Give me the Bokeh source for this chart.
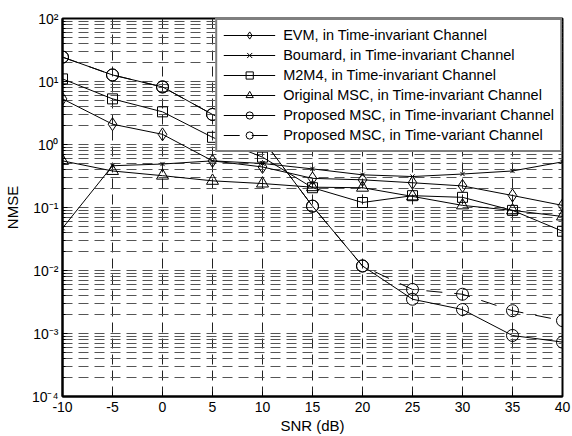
from bokeh.plotting import figure
from bokeh.models import FixedTicker, Legend, LegendItem, Range1d
from bokeh.embed import file_html
from bokeh.resources import INLINE

snr = [-10, -5, 0, 5, 10, 15, 20, 25, 30, 35, 40]
evm = [5.3, 2.1, 1.45, 0.55, 0.44, 0.29, 0.275, 0.247, 0.22, 0.155, 0.108]
boumard = [0.047, 0.46, 0.49, 0.55, 0.5, 0.41, 0.33, 0.31, 0.34, 0.38, 0.53]
m2m4 = [11.0, 5.3, 3.3, 1.3, 0.63, 0.206, 0.12, 0.154, 0.145, 0.09, 0.042]
orig_msc = [0.55, 0.38, 0.32, 0.265, 0.24, 0.21, 0.206, 0.15, 0.108, 0.09, 0.072]
prop_inv = [24.4, 12.7, 8.2, 3.0, 1.2, 0.105, 0.0118, 0.0035, 0.0024, 0.00093, 0.00073]
prop_var = [24.4, 12.7, 8.2, 3.0, 1.2, 0.105, 0.0118, 0.005, 0.0042, 0.0023, 0.0016]

x_ticks = [-10, -5, 0, 5, 10, 15, 20, 25, 30, 35, 40]
x_tick_labels = ["-10", "-5", "0", "5", "10", "15", "20", "25", "30", "35", "40"]
y_ticks = [1e-4, 1e-3, 1e-2, 1e-1, 1e0, 1e1, 1e2]
y_tick_labels = ["10\u207b\u2074", "10\u207b\u00b3", "10\u207b\u00b2", "10\u207b\u00b9",
                 "10\u2070", "10\u00b9", "10\u00b2"]
y_minor = [m * d for d in [1e-4, 1e-3, 1e-2, 1e-1, 1e0, 1e1] for m in range(2, 10)]

labels = [
    "EVM, in Time-invariant Channel",
    "Boumard, in Time-invariant Channel",
    "M2M4, in Time-invariant Channel",
    "Original MSC, in Time-invariant Channel",
    "Proposed MSC, in Time-invariant Channel",
    "Proposed MSC, in Time-variant Channel",
]

FONT = "Liberation Sans"

p = figure(width=572, height=436, y_axis_type="log",
           x_range=Range1d(-10, 40), y_range=Range1d(1e-4, 1e2),
           output_backend="svg", toolbar_location=None,
           min_border_left=62, min_border_right=10,
           min_border_top=18, min_border_bottom=36)
p.background_fill_color = "white"
p.border_fill_color = "white"
p.outline_line_color = "black"
p.outline_line_width = 2

p.xaxis.ticker = FixedTicker(ticks=x_ticks)
p.xaxis.major_label_overrides = {t: l for t, l in zip(x_ticks, x_tick_labels)}
p.yaxis.ticker = FixedTicker(ticks=y_ticks, minor_ticks=y_minor)
p.yaxis.major_label_overrides = {t: l for t, l in zip(y_ticks, y_tick_labels)}

for ax in (p.xaxis, p.yaxis):
    ax.axis_line_color = "black"
    ax.axis_line_width = 2
    ax.major_tick_in = 5
    ax.major_tick_out = 0
    ax.minor_tick_in = 3
    ax.minor_tick_out = 0
    ax.major_tick_line_color = "black"
    ax.minor_tick_line_color = "black"
    ax.major_label_text_font = FONT
    ax.major_label_text_font_size = "14px"
    ax.major_label_text_color = "black"
    ax.axis_label_text_font = FONT
    ax.axis_label_text_font_size = "15px"
    ax.axis_label_text_font_style = "normal"
    ax.axis_label_text_color = "black"
p.xaxis.major_label_standoff = 5
p.yaxis.major_label_standoff = 4
p.xaxis.axis_label = "SNR (dB)"
p.yaxis.axis_label = "NMSE"
p.xaxis.axis_label_standoff = 2
p.yaxis.axis_label_standoff = 8

p.xgrid.grid_line_color = "#222222"
p.xgrid.grid_line_dash = "10 6"
p.xgrid.grid_line_width = 1
p.ygrid.grid_line_color = "#555555"
p.ygrid.grid_line_dash = "10 6"
p.ygrid.grid_line_width = 1
p.ygrid.minor_grid_line_color = "#555555"
p.ygrid.minor_grid_line_dash = "10 6"
p.ygrid.minor_grid_line_width = 1

series = [
    (evm, "diamond", 13, "solid"),
    (boumard, "x", 6, "solid"),
    (m2m4, "square", 10, "solid"),
    (orig_msc, "triangle", 12, "solid"),
    (prop_inv, "circle", 12, "solid"),
    (prop_var, "circle", 12, "16 12"),
]

items = []
for (vals, marker, size, dash), lab in zip(series, labels):
    ln = p.line(snr, vals, line_color="black", line_width=1, line_dash=dash)
    sc = p.scatter(snr, vals, marker=marker, size=size, line_color="black",
                   line_width=1, fill_alpha=0)
    items.append(LegendItem(label=lab, renderers=[ln, sc]))

legend = Legend(items=items, location="top_right", margin=0, padding=6,
                spacing=2, glyph_height=18, label_height=18, glyph_width=52,
                label_standoff=8, border_line_color="black", border_line_width=2,
                background_fill_color="white", background_fill_alpha=1.0,
                label_text_font=FONT, label_text_font_size="14.5px",
                label_text_color="black")
p.add_layout(legend, "center")

open("out.html", "w").write(file_html(p, INLINE))
